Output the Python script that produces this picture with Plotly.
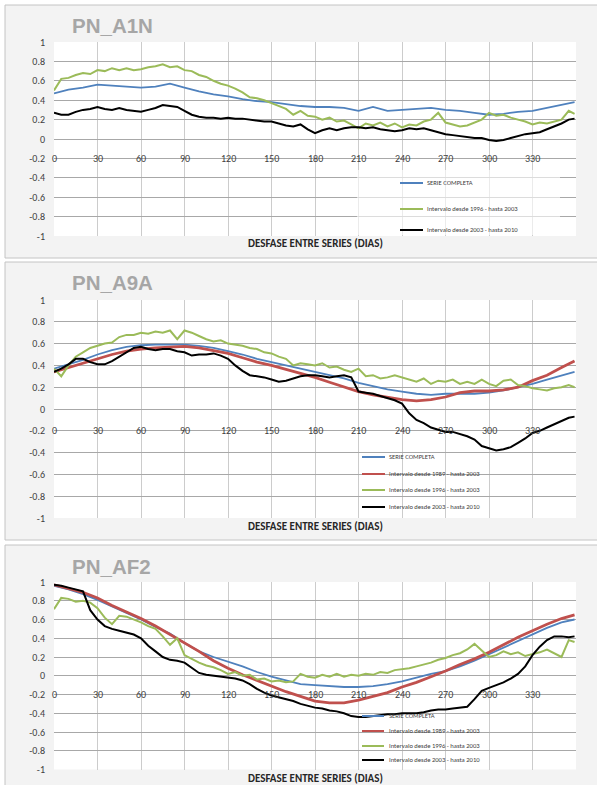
import plotly.graph_objects as go

W, H = 597, 785

# ---------------- data ----------------
DAYS5 = list(range(0, 360, 5)) + [359]
DAYS10 = list(range(0, 360, 10)) + [359]

X_TICKS = [0, 30, 60, 90, 120, 150, 180, 210, 240, 270, 300, 330]
X_TICK_LABELS = ["0", "30", "60", "90", "120", "150", "180", "210", "240", "270", "300", "330"]
Y_TICKS = [1, 0.8, 0.6, 0.4, 0.2, 0, -0.2, -0.4, -0.6, -0.8, -1]
Y_TICK_LABELS = ["1", "0.8", "0.6", "0.4", "0.2", "0", "-0.2", "-0.4", "-0.6", "-0.8", "-1"]

TITLES = ["PN_A1N", "PN_A9A", "PN_AF2"]
X_TITLE = "DESFASE ENTRE SERIES (DIAS)"

NAME_FULL = "SERIE COMPLETA"
NAME_8903 = "Intervalo desde 1989 - hasta 2003"
NAME_9603 = "Intervalo desde 1996 - hasta 2003"
NAME_0310 = "Intervalo desde 2003 - hasta 2010"

# Panel 1: PN_A1N
A1N_FULL = [0.47, 0.51, 0.53, 0.56, 0.55, 0.54, 0.53, 0.54, 0.57, 0.53, 0.49, 0.46,
            0.44, 0.41, 0.39, 0.38, 0.36, 0.34, 0.33, 0.33, 0.32, 0.29, 0.33, 0.29,
            0.30, 0.31, 0.32, 0.30, 0.29, 0.27, 0.25, 0.26, 0.28, 0.29, 0.32, 0.35,
            0.38]
A1N_9603 = [0.50, 0.62, 0.63, 0.66, 0.68, 0.67, 0.71, 0.70, 0.73, 0.71, 0.73, 0.71,
            0.72, 0.74, 0.75, 0.77, 0.74, 0.75, 0.71, 0.70, 0.66, 0.64, 0.60, 0.57,
            0.55, 0.52, 0.48, 0.43, 0.42, 0.40, 0.37, 0.34, 0.31, 0.25, 0.29, 0.24,
            0.23, 0.20, 0.22, 0.18, 0.19, 0.15, 0.11, 0.16, 0.14, 0.17, 0.13, 0.16,
            0.12, 0.15, 0.14, 0.18, 0.20, 0.27, 0.17, 0.15, 0.13, 0.14, 0.17, 0.20,
            0.27, 0.24, 0.25, 0.22, 0.20, 0.18, 0.15, 0.17, 0.16, 0.18, 0.20, 0.29,
            0.26]
A1N_0310 = [0.27, 0.25, 0.25, 0.28, 0.30, 0.31, 0.33, 0.31, 0.30, 0.32, 0.30, 0.29,
            0.28, 0.30, 0.32, 0.35, 0.34, 0.33, 0.29, 0.25, 0.23, 0.22, 0.22, 0.21,
            0.22, 0.21, 0.21, 0.20, 0.19, 0.18, 0.18, 0.16, 0.14, 0.13, 0.15, 0.10,
            0.06, 0.09, 0.11, 0.09, 0.11, 0.12, 0.12, 0.11, 0.12, 0.10, 0.09, 0.08,
            0.09, 0.11, 0.10, 0.11, 0.09, 0.07, 0.05, 0.04, 0.03, 0.02, 0.01, 0.01,
            -0.01, -0.02, -0.01, 0.01, 0.03, 0.05, 0.06, 0.07, 0.10, 0.13, 0.16, 0.20,
            0.21]

# Panel 2: PN_A9A
A9A_FULL = [0.37, 0.41, 0.45, 0.50, 0.54, 0.57, 0.585, 0.59, 0.59, 0.59, 0.58, 0.56,
            0.53, 0.50, 0.46, 0.43, 0.40, 0.37, 0.34, 0.31, 0.28, 0.24, 0.21, 0.18,
            0.16, 0.14, 0.13, 0.14, 0.14, 0.14, 0.15, 0.17, 0.20, 0.23, 0.27, 0.31,
            0.34]
A9A_8903 = [0.34, 0.38, 0.42, 0.46, 0.50, 0.53, 0.55, 0.56, 0.57, 0.575, 0.56, 0.535,
            0.51, 0.47, 0.43, 0.40, 0.365, 0.33, 0.29, 0.245, 0.20, 0.16, 0.13, 0.105,
            0.085, 0.075, 0.085, 0.11, 0.15, 0.165, 0.165, 0.175, 0.20, 0.26, 0.31, 0.38,
            0.44]
A9A_9603 = [0.37, 0.30, 0.40, 0.48, 0.52, 0.56, 0.58, 0.60, 0.61, 0.66, 0.68, 0.68,
            0.70, 0.69, 0.71, 0.70, 0.72, 0.64, 0.72, 0.70, 0.67, 0.64, 0.62, 0.63,
            0.60, 0.59, 0.58, 0.56, 0.55, 0.52, 0.51, 0.48, 0.46, 0.40, 0.42, 0.41,
            0.40, 0.42, 0.38, 0.39, 0.36, 0.34, 0.37, 0.30, 0.31, 0.28, 0.29, 0.31,
            0.29, 0.27, 0.25, 0.28, 0.23, 0.26, 0.25, 0.27, 0.23, 0.25, 0.23, 0.27,
            0.23, 0.21, 0.26, 0.27, 0.22, 0.21, 0.19, 0.18, 0.17, 0.19, 0.20, 0.22,
            0.20]
A9A_0310 = [0.34, 0.37, 0.41, 0.46, 0.46, 0.43, 0.41, 0.41, 0.44, 0.48, 0.52, 0.56,
            0.57, 0.55, 0.54, 0.55, 0.55, 0.53, 0.52, 0.49, 0.50, 0.50, 0.51, 0.49,
            0.46, 0.40, 0.35, 0.31, 0.30, 0.29, 0.27, 0.25, 0.26, 0.28, 0.30, 0.31,
            0.31, 0.30, 0.29, 0.30, 0.31, 0.29, 0.16, 0.15, 0.14, 0.12, 0.10, 0.08,
            0.05, -0.04, -0.10, -0.13, -0.17, -0.19, -0.21, -0.21, -0.23, -0.25, -0.28, -0.34,
            -0.36, -0.38, -0.37, -0.35, -0.31, -0.27, -0.22, -0.20, -0.17, -0.14, -0.11, -0.08,
            -0.07]

# Panel 3: PN_AF2
AF2_FULL = [0.96, 0.92, 0.87, 0.81, 0.74, 0.67, 0.60, 0.52, 0.45, 0.35, 0.26, 0.20,
            0.15, 0.10, 0.04, -0.01, -0.05, -0.09, -0.10, -0.11, -0.12, -0.12, -0.11, -0.09,
            -0.06, -0.02, 0.02, 0.05, 0.10, 0.16, 0.23, 0.30, 0.37, 0.44, 0.51, 0.57,
            0.60]
AF2_8903 = [0.97, 0.93, 0.89, 0.83, 0.75, 0.68, 0.61, 0.53, 0.44, 0.35, 0.26, 0.16,
            0.08, 0.01, -0.05, -0.11, -0.17, -0.22, -0.27, -0.29, -0.29, -0.26, -0.22, -0.18,
            -0.12, -0.07, -0.01, 0.05, 0.12, 0.18, 0.25, 0.33, 0.41, 0.48, 0.55, 0.61,
            0.65]
AF2_9603 = [0.71, 0.83, 0.82, 0.79, 0.80, 0.78, 0.72, 0.62, 0.55, 0.64, 0.63, 0.60,
            0.57, 0.53, 0.50, 0.42, 0.33, 0.40, 0.22, 0.18, 0.14, 0.11, 0.09, 0.06,
            0.02, 0.04, 0.00, 0.01, -0.04, -0.03, -0.06, -0.05, -0.07, -0.06, 0.02, -0.01,
            -0.02, 0.01, -0.01, 0.02, -0.01, 0.01, 0.00, 0.02, 0.01, 0.04, 0.03, 0.06,
            0.07, 0.08, 0.10, 0.12, 0.14, 0.17, 0.19, 0.22, 0.24, 0.28, 0.34, 0.27,
            0.20, 0.22, 0.26, 0.23, 0.25, 0.21, 0.23, 0.25, 0.28, 0.24, 0.20, 0.38,
            0.36]
AF2_0310 = [0.97, 0.96, 0.94, 0.92, 0.90, 0.70, 0.60, 0.53, 0.50, 0.48, 0.46, 0.44,
            0.40, 0.32, 0.26, 0.20, 0.17, 0.16, 0.14, 0.08, 0.03, 0.01, 0.00, -0.01,
            -0.02, -0.03, -0.05, -0.09, -0.14, -0.18, -0.21, -0.23, -0.25, -0.27, -0.30, -0.32,
            -0.34, -0.35, -0.37, -0.38, -0.40, -0.43, -0.44, -0.44, -0.43, -0.42, -0.41, -0.41,
            -0.40, -0.40, -0.40, -0.39, -0.37, -0.36, -0.36, -0.35, -0.34, -0.33, -0.25, -0.16,
            -0.13, -0.10, -0.07, -0.03, 0.02, 0.10, 0.22, 0.31, 0.38, 0.42, 0.42, 0.41,
            0.42]

# ---------------- styles ----------------
COLORS = {NAME_FULL: "#4F81BD", NAME_8903: "#C0504D", NAME_9603: "#9BBB59", NAME_0310: "#000000"}
WIDTHS = {NAME_FULL: 1.8, NAME_8903: 2.8, NAME_9603: 2.0, NAME_0310: 2.0}

PANELS = [
    [(NAME_FULL, DAYS10, A1N_FULL), (NAME_9603, DAYS5, A1N_9603), (NAME_0310, DAYS5, A1N_0310)],
    [(NAME_FULL, DAYS10, A9A_FULL), (NAME_8903, DAYS10, A9A_8903), (NAME_9603, DAYS5, A9A_9603), (NAME_0310, DAYS5, A9A_0310)],
    [(NAME_FULL, DAYS10, AF2_FULL), (NAME_8903, DAYS10, AF2_8903), (NAME_9603, DAYS5, AF2_9603), (NAME_0310, DAYS5, AF2_0310)],
]

# pixel geometry
PLOT_X = (54, 576)
PLOT_Y = [(42, 236), (300, 518), (582, 769.5)]
PANEL_Y = [(5, 258), (262, 540), (545, 800)]
TITLE_Y = [26, 283, 566]
XTITLE_Y = [244, 526, 778]
LEG_LINE_X = [(400, 423), (362, 385), (362, 384)]
LEG_TEXT_X = [425, 387, 387]
LEG_Y = [[183, 209, 230], [457, 474, 490, 507], [716, 731, 746, 760]]


def fx(px):
    return px / W


def fy(py):
    return 1 - py / H


CAL = "Carlito, Lato, 'Open Sans', sans-serif"
ARIAL = "'Liberation Sans', Arial, sans-serif"

fig = go.Figure()
shapes = []
annotations = []
layout = {}

for i, series in enumerate(PANELS):
    n = "" if i == 0 else str(i + 1)
    xa, ya = "x" + n, "y" + n
    # panel frame and white plot area
    shapes.append(dict(type="rect", xref="paper", yref="paper", layer="below",
                       x0=fx(5), x1=fx(600), y0=fy(PANEL_Y[i][0]), y1=fy(PANEL_Y[i][1]),
                       fillcolor="#f3f3f3", line=dict(color="#c4c4c4", width=1)))
    shapes.append(dict(type="rect", xref="paper", yref="paper", layer="below",
                       x0=fx(PLOT_X[0]), x1=fx(PLOT_X[1]), y0=fy(PLOT_Y[i][0]), y1=fy(PLOT_Y[i][1]),
                       fillcolor="#ffffff", line=dict(width=0)))
    layout["xaxis" + n] = dict(domain=[fx(PLOT_X[0]), fx(PLOT_X[1])], anchor=ya, range=[0, 360],
                               tickvals=X_TICKS, showticklabels=False, ticks="",
                               showgrid=True, gridcolor="#cccccc", gridwidth=1.4,
                               zeroline=False, showline=False, fixedrange=True,
                               automargin=False)
    layout["yaxis" + n] = dict(domain=[fy(PLOT_Y[i][1]), fy(PLOT_Y[i][0])], anchor=xa, range=[-1, 1],
                               tickvals=Y_TICKS, ticktext=Y_TICK_LABELS, ticks="",
                               ticklabelstandoff=8,
                               tickfont=dict(family=CAL, size=10, color="#404040"),
                               showgrid=True, gridcolor="#a8a8a8", gridwidth=1,
                               zeroline=False, showline=False, fixedrange=True,
                               automargin=False)
    for name, xs, ys in series:
        fig.add_trace(go.Scatter(x=xs, y=ys, mode="lines", name=name, xaxis=xa, yaxis=ya,
                                 line=dict(color=COLORS[name], width=WIDTHS[name]),
                                 showlegend=False))
    # x tick labels on the -0.2 gridline (as in the source)
    for t, lab in zip(X_TICKS, X_TICK_LABELS):
        annotations.append(dict(x=t, y=-0.2, xref=xa, yref=ya, text=lab, showarrow=False,
                                xanchor="center", yanchor="middle",
                                font=dict(family=CAL, size=10, color="#404040")))
    # panel title
    annotations.append(dict(x=fx(70), y=fy(TITLE_Y[i]), xref="paper", yref="paper",
                            text="<b>" + TITLES[i] + "</b>", showarrow=False,
                            xanchor="left", yanchor="middle",
                            font=dict(family=ARIAL, size=20.5, color="#a6a6a6")))
    # x axis title
    annotations.append(dict(x=fx((PLOT_X[0] + PLOT_X[1]) / 2), y=fy(XTITLE_Y[i]),
                            xref="paper", yref="paper", text="<b>" + X_TITLE + "</b>",
                            showarrow=False, xanchor="center", yanchor="middle",
                            font=dict(family=CAL, size=11, color="#262626")))
    # legend
    if i == 0:
        shapes.append(dict(type="rect", xref="paper", yref="paper", layer="above",
                           x0=fx(357), x1=fx(560), y0=fy(170), y1=fy(PLOT_Y[0][1] - 1),
                           fillcolor="rgba(255,255,255,0.6)", line=dict(width=0)))
    for (name, _, _), ly in zip(series, LEG_Y[i]):
        shapes.append(dict(type="line", xref="paper", yref="paper", layer="above",
                           x0=fx(LEG_LINE_X[i][0]), x1=fx(LEG_LINE_X[i][1]), y0=fy(ly), y1=fy(ly),
                           line=dict(color=COLORS[name], width=2)))
        annotations.append(dict(x=fx(LEG_TEXT_X[i]), y=fy(ly), xref="paper", yref="paper",
                                text=name, showarrow=False, xanchor="left", yanchor="middle",
                                font=dict(family=CAL, size=6.6, color="#404040")))

fig.update_layout(**layout)
fig.update_layout(width=W, height=H, autosize=False,
                  margin=dict(l=0, r=0, t=0, b=0, pad=0),
                  paper_bgcolor="#ffffff", plot_bgcolor="#ffffff",
                  showlegend=False, shapes=shapes, annotations=annotations,
                  hovermode=False)

fig.write_html("out.html", config={"displayModeBar": False},
               post_script="document.body.style.margin='0';document.body.style.padding='0';"
                           "document.body.style.overflow='hidden';")
